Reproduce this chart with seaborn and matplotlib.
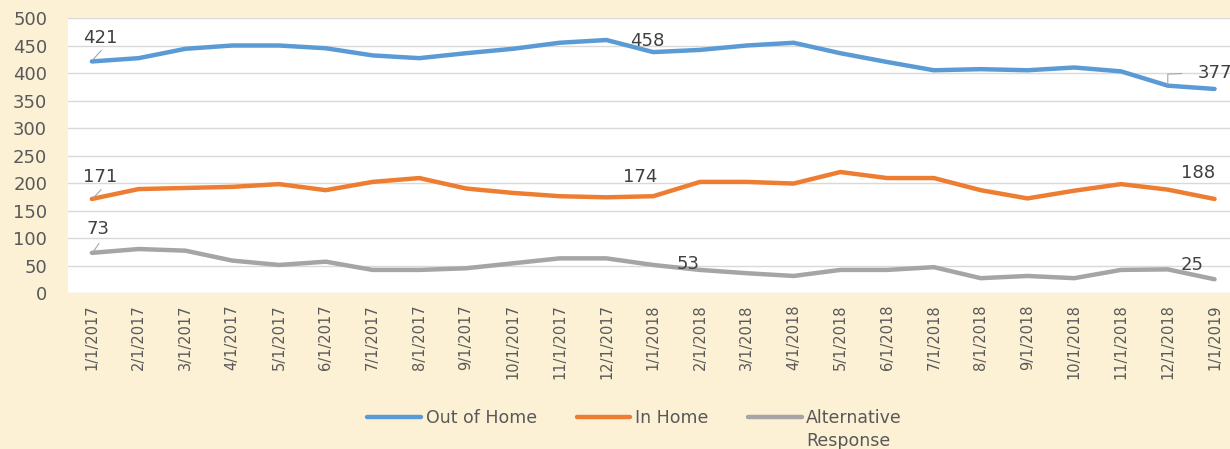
import matplotlib
matplotlib.use("Agg")
import matplotlib.pyplot as plt
from matplotlib.lines import Line2D
import seaborn as sns
import pandas as pd

dates = ["1/1/2017", "2/1/2017", "3/1/2017", "4/1/2017", "5/1/2017", "6/1/2017",
         "7/1/2017", "8/1/2017", "9/1/2017", "10/1/2017", "11/1/2017", "12/1/2017",
         "1/1/2018", "2/1/2018", "3/1/2018", "4/1/2018", "5/1/2018", "6/1/2018",
         "7/1/2018", "8/1/2018", "9/1/2018", "10/1/2018", "11/1/2018", "12/1/2018",
         "1/1/2019"]
out_of_home = [421, 427, 444, 450, 450, 445, 432, 427, 436, 444, 455, 460,
               438, 442, 450, 455, 436, 420, 405, 407, 405, 410, 403, 377, 371]
in_home = [171, 189, 191, 193, 198, 187, 202, 209, 190, 182, 176, 174,
           176, 202, 202, 199, 220, 209, 209, 187, 172, 186, 198, 188, 171]
alternative = [73, 80, 77, 59, 51, 57, 42, 42, 45, 54, 63, 63,
               51, 42, 36, 31, 42, 42, 47, 27, 31, 27, 42, 43, 25]
series_names = ["Out of Home", "In Home", "Alternative"]
colors = ["#5B9BD5", "#ED7D31", "#A5A5A5"]

# data label annotations: (text, x position, y position)
labels_text = ["421", "171", "73", "458", "174", "53", "377", "188", "25"]
labels_x = [0.17, 0.17, 0.13, 11.87, 11.72, 12.75, 24.0, 23.64, 23.53]
labels_y = [464, 211, 116, 458, 211, 52, 400, 218, 51]

sns.set_theme(style="white")
plt.rcParams["font.family"] = ["DejaVu Sans"]

df = pd.DataFrame({
    "pos": list(range(len(dates))) * 3,
    "value": out_of_home + in_home + alternative,
    "series": [series_names[0]] * len(dates) + [series_names[1]] * len(dates)
              + [series_names[2]] * len(dates),
})

bg = "#FCF0D5"
fig = plt.figure(figsize=(12.3, 4.49), dpi=100, facecolor=bg)
ax = fig.add_axes([0.0553, 0.3474, 0.9447, 0.6125])
ax.set_facecolor("white")

sns.lineplot(data=df, x="pos", y="value", hue="series", palette=colors,
             hue_order=series_names, linewidth=3.2, ax=ax, legend=False,
             zorder=3)

ax.set_xlim(-0.51, 24.33)
ax.set_ylim(0, 500)
ax.set_yticks(range(0, 501, 50))
ax.set_xticks(range(len(dates)))
ax.set_xticklabels(dates, rotation=90, fontsize=10.5, color="#595959")
ax.tick_params(axis="y", labelsize=13, colors="#595959", length=0, pad=15)
ax.tick_params(axis="x", length=0, pad=8)
ax.set_xlabel("")
ax.set_ylabel("")
ax.grid(axis="y", color="#D9D9D9", linewidth=1, zorder=0)
ax.grid(axis="x", visible=False)
for s in ax.spines.values():
    s.set_visible(False)

for t, x, y in zip(labels_text, labels_x, labels_y):
    ax.text(x, y, t, ha="center", va="center", fontsize=13, color="#404040",
            zorder=4, clip_on=False)

# leader lines
lc = "#A6A6A6"
ax.plot([0.03, 0.2], [425, 441], color=lc, lw=0.8, zorder=4)
ax.plot([0.03, 0.2], [173, 188], color=lc, lw=0.8, zorder=4)
ax.plot([0.03, 0.15], [75, 90], color=lc, lw=0.8, zorder=4)
ax.plot([23.0, 23.0, 23.3], [379, 398, 399], color=lc, lw=0.8, zorder=4)

handles = [Line2D([0], [0], color=c, lw=3.2) for c in colors]
leg = fig.legend(handles, series_names, loc="center", ncol=3,
                 bbox_to_anchor=(0.516, 0.069), frameon=False, fontsize=12.5,
                 handlelength=3.1, columnspacing=2.3, handletextpad=0.25,
                 labelcolor="#595959")
fig.canvas.draw()
bb = leg.get_texts()[2].get_window_extent()
fig.text(bb.x0 / fig.bbox.width, (bb.y0 - 5) / fig.bbox.height, "Response",
         ha="left", va="top", fontsize=12.5, color="#595959")

fig.savefig("out.png", dpi=100, facecolor=bg)
